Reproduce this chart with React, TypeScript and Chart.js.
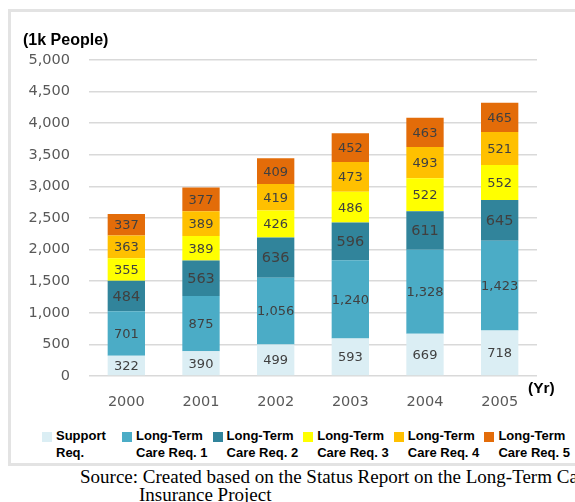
import React, { useEffect, useRef } from "react";
import { Chart, registerables } from "chart.js";

Chart.register(...registerables);

// Care-need levels by year, in thousands of people
const years = ["2000", "2001", "2002", "2003", "2004", "2005"];
const seriesNames = [
  "Support Req.",
  "Long-Term Care Req. 1",
  "Long-Term Care Req. 2",
  "Long-Term Care Req. 3",
  "Long-Term Care Req. 4",
  "Long-Term Care Req. 5",
];
const supportReq = [322, 390, 499, 593, 669, 718];
const careReq1 = [701, 875, 1056, 1240, 1328, 1423];
const careReq2 = [484, 563, 636, 596, 611, 645];
const careReq3 = [355, 389, 426, 486, 522, 552];
const careReq4 = [363, 389, 419, 473, 493, 521];
const careReq5 = [337, 377, 409, 452, 463, 465];
const yTicks = [0, 500, 1000, 1500, 2000, 2500, 3000, 3500, 4000, 4500, 5000];

const seriesValues = [supportReq, careReq1, careReq2, careReq3, careReq4, careReq5];
const seriesColors = ["#dbeef4", "#4bacc6", "#31849b", "#ffff00", "#ffc000", "#e36c09"];
const labelSizes = [13, 13, 14.5, 13, 13, 13];

const fmt = (v: number) => v.toLocaleString("en-US");

// Writes each segment's value in the middle of its bar piece
const segmentLabels = {
  id: "segmentLabels",
  afterDatasetsDraw(chart: any) {
    const ctx = chart.ctx;
    ctx.save();
    ctx.fillStyle = "#404040";
    ctx.textAlign = "center";
    ctx.textBaseline = "middle";
    chart.data.datasets.forEach((ds: any, di: number) => {
      const meta = chart.getDatasetMeta(di);
      ctx.font = `${labelSizes[di]}px "DejaVu Sans"`;
      meta.data.forEach((bar: any, i: number) => {
        const y = (bar.y + bar.base) / 2;
        ctx.fillText(fmt(ds.data[i]), bar.x, y + 1);
      });
    });
    ctx.restore();
  },
};

function splitName(name: string): [string, string] {
  const i = name.indexOf(" ");
  return [name.slice(0, i), name.slice(i + 1)];
}

export default function App() {
  const canvasRef = useRef<HTMLCanvasElement | null>(null);

  useEffect(() => {
    const canvas = canvasRef.current;
    if (!canvas) return;
    const chart = new Chart(canvas, {
      type: "bar",
      data: {
        labels: years,
        datasets: seriesNames.map((name, i) => ({
          label: name,
          data: seriesValues[i],
          backgroundColor: seriesColors[i],
          borderWidth: 0,
          barPercentage: 0.5,
          categoryPercentage: 1,
        })),
      },
      options: {
        responsive: false,
        animation: false,
        devicePixelRatio: 1,
        layout: { padding: { left: 0, right: 38, top: 60, bottom: 14 } },
        plugins: {
          legend: { display: false },
          tooltip: { enabled: false },
        },
        scales: {
          x: {
            stacked: true,
            grid: { display: false, drawTicks: false },
            border: { display: false },
            ticks: {
              padding: 18,
              color: "#595959",
              font: { family: "DejaVu Sans", size: 14.5 },
            },
            afterFit: (scale: any) => {
              scale.height = 30;
            },
          },
          y: {
            stacked: true,
            min: 0,
            max: 5000,
            afterBuildTicks: (scale: any) => {
              scale.ticks = yTicks.map((v) => ({ value: v }));
            },
            grid: { color: "#d9d9d9", lineWidth: 1.5, drawTicks: false },
            border: { display: false },
            ticks: {
              padding: 19,
              color: "#595959",
              font: { family: "DejaVu Sans", size: 14.5 },
              callback: (v: any) => fmt(Number(v)),
            },
            afterFit: (scale: any) => {
              scale.width = 89;
            },
          },
        },
      },
      plugins: [segmentLabels],
    });
    return () => chart.destroy();
  }, []);

  return (
    <div
      style={{
        position: "absolute",
        left: 0,
        top: 0,
        width: 575,
        height: 502,
        overflow: "hidden",
        background: "#fff",
      }}
    >
      <div
        style={{
          position: "absolute",
          left: 8,
          top: 9,
          width: 600,
          height: 451,
          border: "3px solid #e3e3e3",
          background: "#fff",
        }}
      />
      <canvas
        ref={canvasRef}
        width={575}
        height={420}
        style={{ position: "absolute", left: 0, top: 0, width: 575, height: 420 }}
      />
      <div
        style={{
          position: "absolute",
          left: 23,
          top: 31,
          font: 'bold 16px "Liberation Sans", Arial, sans-serif',
          color: "#000",
          whiteSpace: "nowrap",
        }}
      >
        (1k People)
      </div>
      <div
        style={{
          position: "absolute",
          left: 528,
          top: 379,
          font: 'bold 15.5px "Liberation Sans", Arial, sans-serif',
          color: "#000",
          whiteSpace: "nowrap",
        }}
      >
        (Yr)
      </div>
      <div
        style={{
          position: "absolute",
          left: 42,
          top: 427,
          display: "grid",
          gridTemplateColumns: "80px repeat(5, 90.6px)",
          font: 'bold 13px "Liberation Sans", Arial, sans-serif',
          lineHeight: "17px",
          color: "#000",
        }}
      >
        {seriesNames.map((name, i) => {
          const [a, b] = splitName(name);
          return (
            <div key={name} style={{ display: "flex", alignItems: "flex-start" }}>
              <span
                style={{
                  width: 10,
                  height: 10,
                  marginTop: 5,
                  marginRight: 4,
                  background: seriesColors[i],
                  flex: "none",
                }}
              />
              <span style={{ whiteSpace: "nowrap" }}>
                {a}
                <br />
                {b}
              </span>
            </div>
          );
        })}
      </div>
      <div
        style={{
          position: "absolute",
          left: 80,
          top: 468,
          font: '19px "Liberation Serif", "Times New Roman", serif',
          lineHeight: "18px",
          color: "#000",
          whiteSpace: "nowrap",
        }}
      >
        Source: Created based on the Status Report on the Long-Term Care
        <br />
        <span style={{ paddingLeft: 59 }}>Insurance Project</span>
      </div>
    </div>
  );
}
